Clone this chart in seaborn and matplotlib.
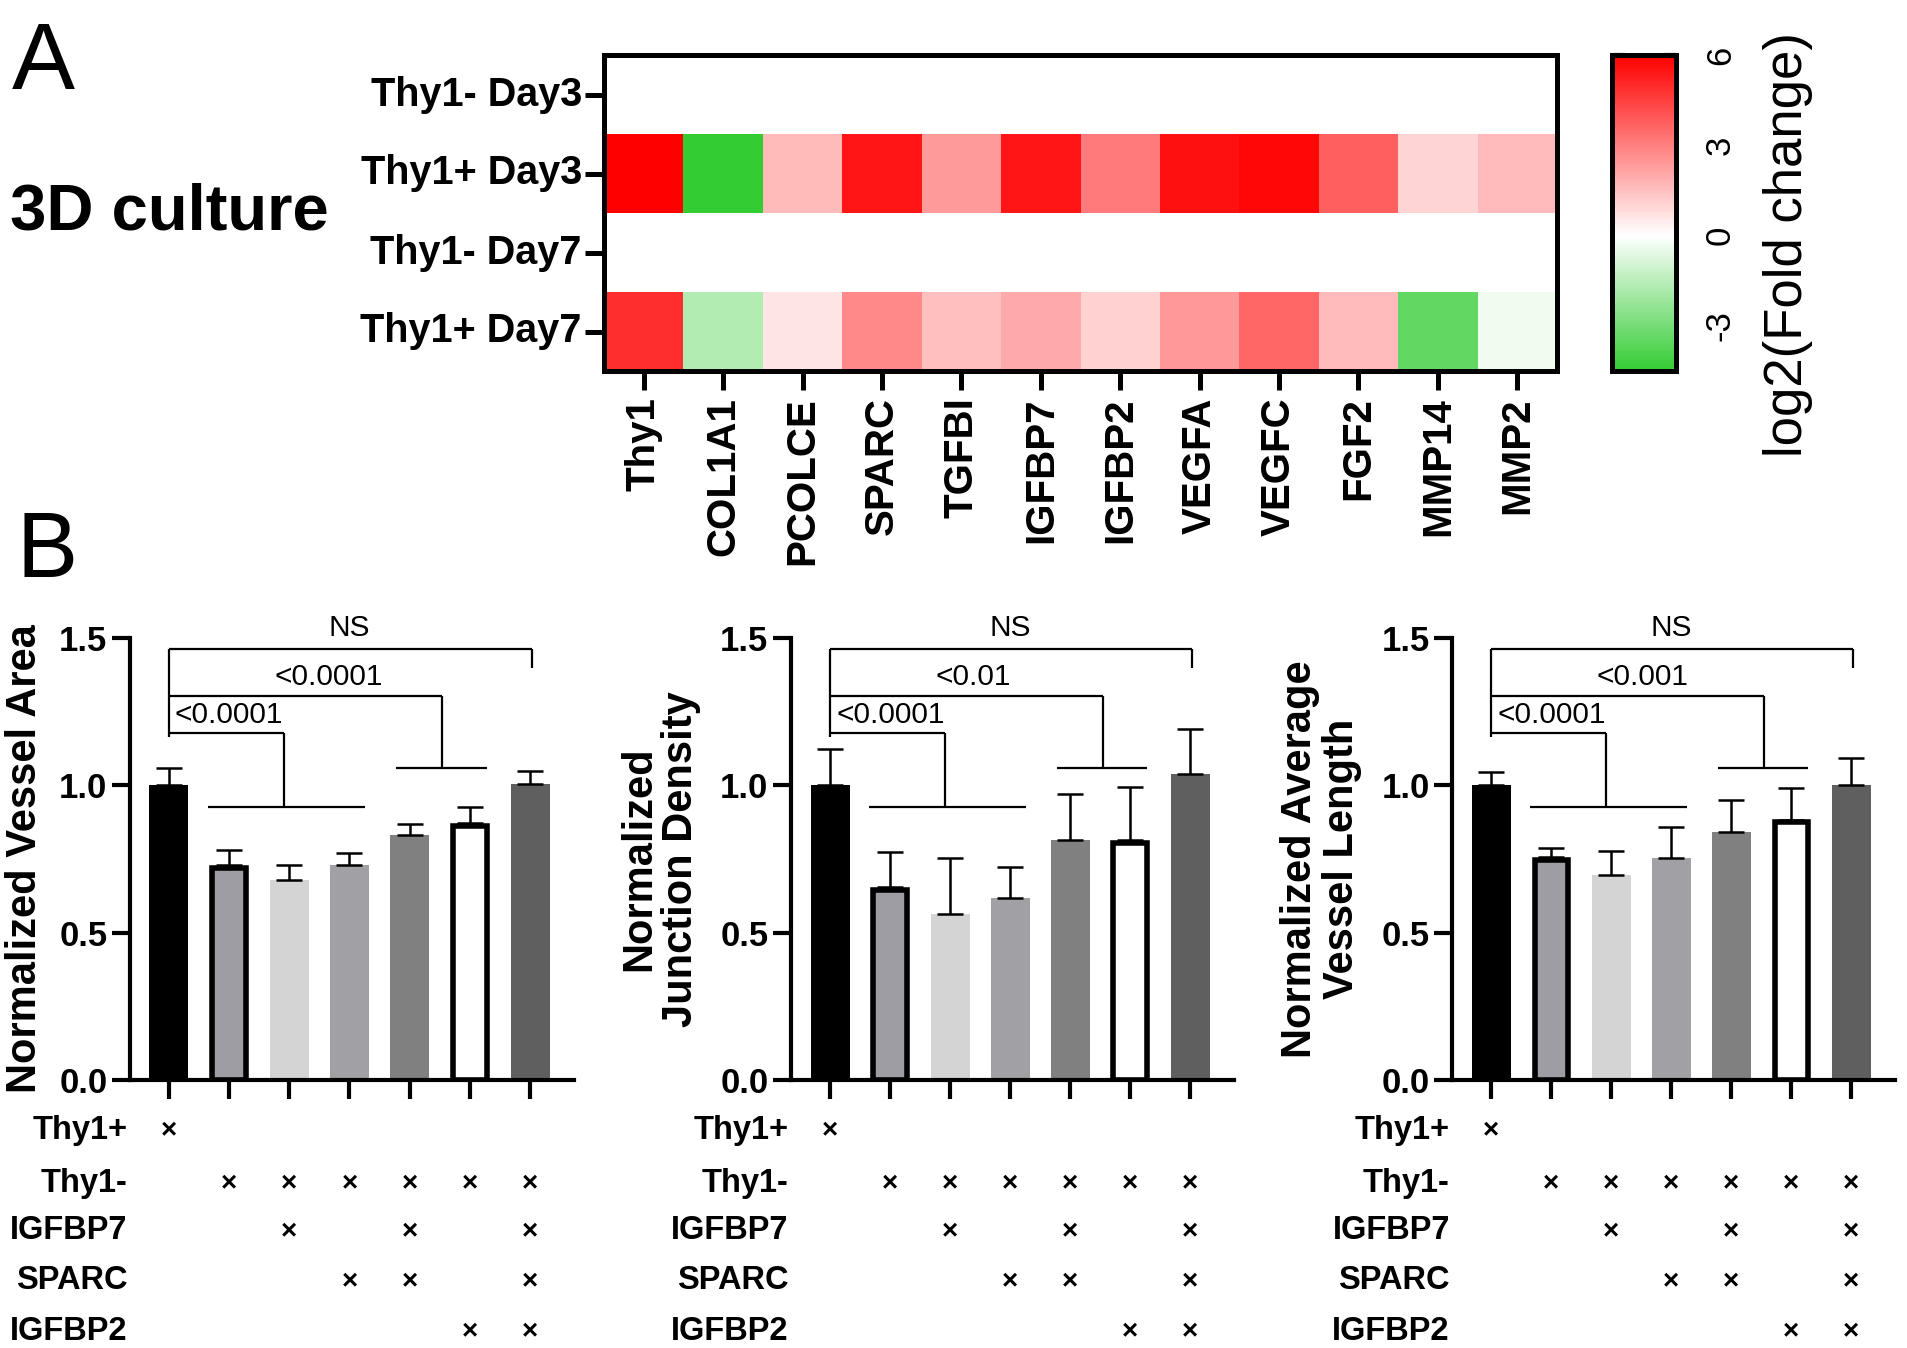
import numpy as np
import pandas as pd
import matplotlib
matplotlib.use('Agg')
import matplotlib.pyplot as plt
from matplotlib.colors import LinearSegmentedColormap
import seaborn as sns

sns.set_style('ticks')
plt.rcParams['font.family'] = ['Liberation Sans', 'DejaVu Sans']
plt.rcParams['axes.linewidth'] = 3
plt.rcParams['axes.unicode_minus'] = False
for key in ['text.color', 'axes.labelcolor', 'xtick.color', 'ytick.color', 'axes.edgecolor']:
    plt.rcParams[key] = 'black'

# ---------- heatmap data (log2 fold change vs Thy1-) ----------
row_names = ['Thy1- Day3', 'Thy1+ Day3', 'Thy1- Day7', 'Thy1+ Day7']
genes = ['Thy1', 'COL1A1', 'PCOLCE', 'SPARC', 'TGFBI', 'IGFBP7',
         'IGFBP2', 'VEGFA', 'VEGFC', 'FGF2', 'MMP14', 'MMP2']
thy1neg_day3 = [0.0] * 12
thy1pos_day3 = [6.0, -4.5, 1.65, 5.5, 2.35, 5.5, 3.1, 5.6, 5.8, 3.75, 1.0, 1.6]
thy1neg_day7 = [0.0] * 12
thy1pos_day7 = [4.9, -1.7, 0.6, 2.8, 1.5, 2.0, 1.05, 2.4, 3.6, 1.6, -3.45, -0.3]
cbar_ticks = [6, 3, 0, -3]

# ---------- bar data ----------
groups = ['Thy1+', 'Thy1-', 'Thy1- IGFBP7', 'Thy1- SPARC',
          'Thy1- IGFBP7 SPARC', 'Thy1- IGFBP2', 'Thy1- all']
area_mean = [1.0, 0.73, 0.68, 0.73, 0.83, 0.873, 1.005]
area_sd = [0.06, 0.05, 0.05, 0.04, 0.04, 0.055, 0.045]
junction_mean = [1.0, 0.655, 0.562, 0.617, 0.816, 0.815, 1.04]
junction_sd = [0.125, 0.12, 0.19, 0.105, 0.156, 0.178, 0.15]
length_mean = [1.0, 0.757, 0.697, 0.753, 0.84, 0.884, 1.0]
length_sd = [0.045, 0.03, 0.08, 0.106, 0.109, 0.108, 0.093]
p_area = ['<0.0001', '<0.0001', 'NS']
p_junction = ['<0.0001', '<0.01', 'NS']
p_length = ['<0.0001', '<0.001', 'NS']

# treatment table under the bars
table_rows = ['Thy1+', 'Thy1-', 'IGFBP7', 'SPARC', 'IGFBP2']
table_marks = [
    [1, 0, 0, 0, 0, 0, 0],
    [0, 1, 1, 1, 1, 1, 1],
    [0, 0, 1, 0, 1, 0, 1],
    [0, 0, 0, 1, 1, 0, 1],
    [0, 0, 0, 0, 0, 1, 1],
]

bar_colors = ['#000000', '#9D9DA3', '#D4D4D4', '#A0A0A5', '#808080', '#FFFFFF', '#5F5F5F']
bar_edged = [False, True, False, False, False, True, False]

# ---------- figure ----------
W, H = 1907, 1348
fig = plt.figure(figsize=(W / 100, H / 100), dpi=100)


def box(x0, y0, x1, y1):
    return [x0 / W, 1 - y1 / H, (x1 - x0) / W, (y1 - y0) / H]


# ---- panel A: heatmap ----
ax_h = fig.add_axes(box(604, 55, 1557, 371))
ax_c = fig.add_axes(box(1612, 55, 1676, 371))
fc = pd.DataFrame([thy1neg_day3, thy1pos_day3, thy1neg_day7, thy1pos_day7],
                  index=row_names, columns=genes)
cmap = LinearSegmentedColormap.from_list(
    'gwr', [(0, '#33CC33'), (4.5 / 10.5, '#FFFFFF'), (1, '#FF0000')])
sns.heatmap(fc, cmap=cmap, vmin=-4.5, vmax=6, ax=ax_h, cbar_ax=ax_c,
            cbar_kws={'ticks': cbar_ticks})

for s in ax_h.spines.values():
    s.set_visible(True)
    s.set_linewidth(3.6)
    s.set_color('black')
ax_h.tick_params(axis='both', length=14, width=3.6, direction='out', color='black',
                 left=True, bottom=True)
ax_h.tick_params(axis='x', labelrotation=90, labelsize=29, pad=5)
ax_h.tick_params(axis='y', labelrotation=0, pad=2)
for t in ax_h.get_xticklabels():
    t.set_fontweight('bold')
for t in ax_h.get_yticklabels():
    t.set_fontweight('bold')
    t.set_fontsize(28.5)
ax_h.set_xlabel('')
ax_h.set_ylabel('')

cbar = ax_h.collections[0].colorbar
cbar.outline.set_linewidth(3.6)
cbar.outline.set_edgecolor('black')
cbar.ax.tick_params(direction='in', left=True, right=True, length=9, width=3,
                    labelsize=25, pad=32, color='black')
for t in cbar.ax.get_yticklabels():
    t.set_rotation(90)
    t.set_va('center')
    t.set_ha('center')
cbar.ax.set_ylabel('log2(Fold change)', fontsize=38, rotation=90, va='center')
cbar.ax.yaxis.set_label_coords(2.75, 0.4)

fig.text(12 / W, 1 - 20 / H, 'A', fontsize=68, va='top', ha='left')
fig.text(10 / W, 1 - 213 / H, '3D culture', fontsize=47, fontweight='bold',
         va='center', ha='left')
fig.text(16 / W, 1 - 510 / H, 'B', fontsize=66, va='top', ha='left')

# ---- panel B: bars ----
panels = [
    (box(129.5, 638, 574, 1080), 'Normalized Vessel Area', area_mean, area_sd, p_area, -0.234),
    (box(790.7, 638, 1234, 1080), 'Normalized\nJunction Density', junction_mean, junction_sd, p_junction, -0.295),
    (box(1452, 638, 1895, 1080), 'Normalized Average\nVessel Length', length_mean, length_sd, p_length, -0.296),
]
row_y = [-0.170, -0.350, -0.512, -0.682, -0.852]
x = np.arange(len(groups))
ln = dict(color='black', lw=1.6, clip_on=False, solid_capstyle='butt')

for rect, ylab, mean, sd, pvals, labx in panels:
    ax = fig.add_axes(rect)
    df = pd.DataFrame({'group': groups, 'value': mean})
    sns.barplot(data=df, x='group', y='value', hue='group', palette=bar_colors,
                width=0.65, saturation=1, legend=False, errorbar=None, ax=ax)
    for i, patch in enumerate(ax.patches):
        if bar_edged[i]:
            patch.set_edgecolor('black')
            patch.set_linewidth(4)
            patch.set_x(patch.get_x() + 0.047)
            patch.set_width(patch.get_width() - 0.094)
            patch.set_height(patch.get_height() - 0.0095)
        else:
            patch.set_linewidth(0)
    ax.errorbar(x, mean, yerr=[np.zeros(len(sd)), sd], fmt='none', ecolor='black',
                elinewidth=1.8, capsize=9.5, capthick=1.8, zorder=3)

    ax.set_xlim(-0.655, 6.73)
    ax.set_ylim(0, 1.5)
    ax.set_yticks([0, 0.5, 1.0, 1.5])
    ax.set_yticklabels(['0.0', '0.5', '1.0', '1.5'])
    ax.set_xticks(x)
    ax.set_xticklabels([])
    ax.set_xlabel('')
    sns.despine(ax=ax)
    for s in ['left', 'bottom']:
        ax.spines[s].set_linewidth(3)
    ax.tick_params(axis='y', length=13, width=3, labelsize=25, pad=3)
    ax.tick_params(axis='x', length=14, width=3)
    for t in ax.get_yticklabels():
        t.set_fontweight('bold')
    ax.set_ylabel(ylab, fontsize=30, fontweight='bold', va='center', linespacing=1.05)
    ax.yaxis.set_label_coords(labx, 0.5)

    # significance brackets
    ax.plot([0, 0], [1.164, 1.464], **ln)
    ax.plot([0, 6.03], [1.464, 1.464], **ln)
    ax.plot([6.03, 6.03], [1.464, 1.398], **ln)
    ax.plot([0, 4.54], [1.304, 1.304], **ln)
    ax.plot([4.54, 4.54], [1.304, 1.06], **ln)
    ax.plot([3.78, 5.28], [1.06, 1.06], **ln)
    ax.plot([0, 1.92], [1.176, 1.176], **ln)
    ax.plot([1.92, 1.92], [1.176, 0.927], **ln)
    ax.plot([0.65, 3.26], [0.927, 0.927], **ln)
    ax.text(0.1, 1.239, pvals[0], fontsize=21.5, ha='left', va='center')
    ax.text(1.75, 1.369, pvals[1], fontsize=21.5, ha='left', va='center')
    ax.text(3.0, 1.534, pvals[2], fontsize=21.5, ha='center', va='center')

    # treatment table
    tr = ax.get_yaxis_transform()
    for r, name in enumerate(table_rows):
        ax.text(-0.005, row_y[r], name, transform=tr, fontsize=23.5,
                fontweight='bold', ha='right', va='center')
        for c, m in enumerate(table_marks[r]):
            if m:
                ax.text(c, row_y[r], '×', fontsize=20, fontweight='bold',
                        ha='center', va='center', clip_on=False)

fig.savefig('out.png', dpi=100)
